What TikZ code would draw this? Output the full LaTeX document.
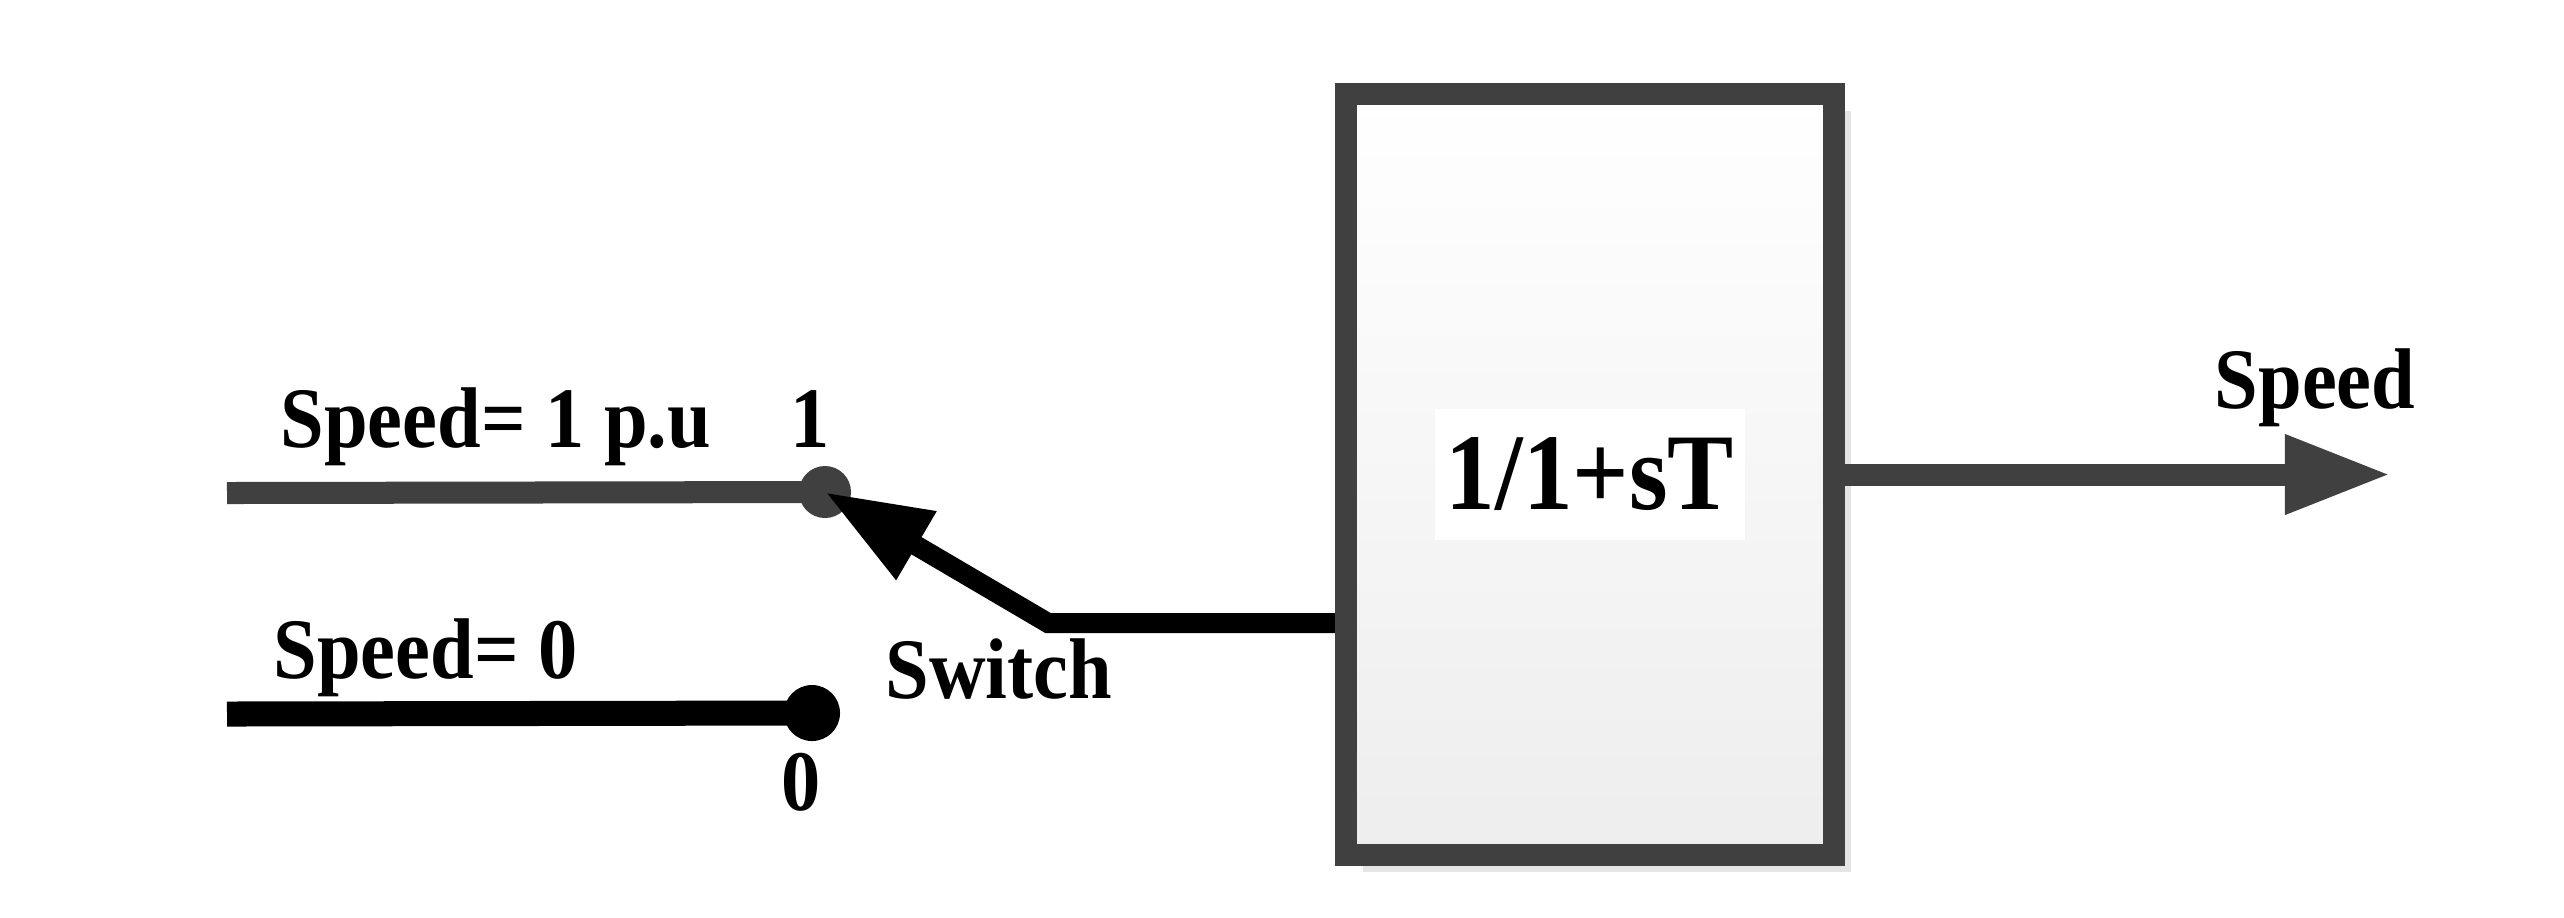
\documentclass[tikz,border=0pt]{standalone}
\usepackage{fontspec}
\setmainfont{Liberation Serif}[FakeStretch=0.91]
\usetikzlibrary{arrows.meta,shadows}
\tikzset{
    >={Triangle[length=1.06cm,width=0.74cm]},
    wire/.style={line width=0.22cm, draw=black!75},
    blockbox/.style={draw=black!75, line width=0.22cm,
        top color=white, bottom color=black!7,
        minimum width=4.88cm, minimum height=7.61cm,
        drop shadow={shadow xshift=0.17cm, shadow yshift=-0.17cm, fill=black!10, opacity=1}},
    lbl/.style={font=\fontsize{24.5}{28}\selectfont\bfseries, inner sep=0pt},
    termdot/.style={circle, inner sep=0pt},
}

\begin{document}
\begin{tikzpicture}[x=0.01cm, y=-0.01cm]
    \useasboundingbox (0,0) rectangle (2564,917);

    % first order block
    \node[blockbox] (lpf) at (1590,474.5) {};
    \node[lbl, fill=white, font=\fontsize{31}{36}\selectfont\bfseries,
          minimum width=3.1cm, minimum height=1.3cm] (tf) at (lpf.center) {1/1+sT};

    % switch terminals
    \coordinate (in1) at (227,493);
    \coordinate (in0) at (227,714);
    \coordinate (pivot) at (1048,623);
    \coordinate (out) at (2391,474.5);

    \draw[wire] (in1) -- (825,492) node[termdot, fill=black!75, minimum size=0.52cm] (c1) {};
    \draw[wire, draw=black, line width=0.25cm] (in0) -- (812,713) node[termdot, fill=black, minimum size=0.56cm] (c0) {};

    \draw[wire, draw=black, line width=0.2cm, ->] (lpf.west |- pivot) -- (pivot) -- (c1.center);
    \draw[wire, ->] (lpf.east |- out) -- (out);

    % labels
    \node[lbl, anchor=base west] (spd1) at (280,447) {Speed= 1 p.u};
    \node[lbl, anchor=base] (pos1) at (810,447) {1};
    \node[lbl, anchor=base west] (spd0) at (273,678) {Speed= 0};
    \node[lbl, anchor=base] (pos0) at (801,810) {0};
    \node[lbl, anchor=base west] (sw) at (885,698) {Switch};
    \node[lbl, anchor=base] (spdout) at (2315,408) {Speed};
\end{tikzpicture}
\end{document}
